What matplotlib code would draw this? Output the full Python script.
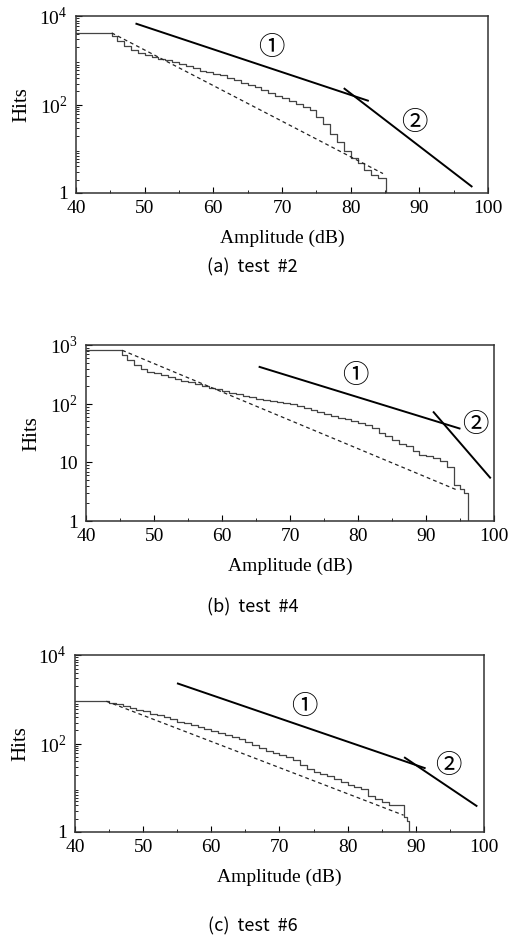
import matplotlib
matplotlib.use("Agg")
import matplotlib.pyplot as plt
from matplotlib.ticker import FixedLocator, NullFormatter, MultipleLocator, LogLocator

plt.rcParams['font.family'] = ['Liberation Serif', 'DejaVu Serif']
plt.rcParams['mathtext.fontset'] = 'custom'
plt.rcParams['mathtext.rm'] = 'Liberation Serif'

# ---- test #2 ----
amp_a = [40, 45.2, 46, 47, 48, 49, 50, 51, 52, 53, 54, 55, 56, 57, 58, 59, 60, 61, 62,
         63, 64, 65, 66, 67, 68, 69, 70, 71, 72, 73, 74, 75, 76, 77, 78, 79, 80, 81,
         82, 83, 84, 85.1, 87]
hits_a = [4200, 3600, 2800, 2100, 1740, 1500, 1320, 1200, 1100, 1000, 910, 830, 740, 660,
          590, 540, 500, 460, 400, 355, 316, 280, 245, 214, 182, 158, 138, 120, 105, 89,
          74, 52, 36, 22, 14, 9, 6.3, 4.8, 3.3, 2.5, 2.2, 1, 1]
dash_a_amp = [45.2, 84.7]
dash_a_hits = [4200, 2.75]
fit1_a_amp = [48.8, 82.5]
fit1_a_hits = [6760, 123]
fit2_a_amp = [79.1, 97.6]
fit2_a_hits = [229, 1.41]
lab_a = [(68.5, 2000), (89.3, 40)]

# ---- test #4 ----
amp_b = [40, 45.3, 46, 47, 48, 49, 50, 51, 52, 53, 54, 55, 56, 57, 58, 59, 60, 61, 62,
         63, 64, 65, 66, 67, 68, 69, 70, 71, 72, 73, 74, 75, 76, 77, 78, 79, 80, 81,
         82, 83, 84, 85, 86, 87, 88, 89, 90, 91, 92, 93, 94.1, 95, 95.6, 96.2, 97.7]
hits_b = [820, 680, 550, 460, 390, 355, 330, 310, 290, 270, 250, 235, 220, 205, 190, 178,
          166, 155, 148, 138, 129, 123, 117, 112, 107, 102, 98, 91, 85, 79, 72, 66, 62,
          58, 55, 51, 48, 44, 38, 32, 28, 24, 21, 19, 15.5, 13.5, 12.9, 12, 10.7, 8.3,
          4.1, 3.5, 3.0, 1, 1]
dash_b_amp = [45.3, 94.5]
dash_b_hits = [820, 3.4]
fit1_b_amp = [65.5, 94.9]
fit1_b_hits = [427, 38]
fit2_b_amp = [91.1, 99.4]
fit2_b_hits = [72, 5.5]
lab_b = [(79.5, 310), (97.2, 44)]

# ---- test #6 ----
amp_c = [40, 45, 46, 47, 48, 49, 50, 51, 52, 53, 54, 55, 56, 57, 58, 59, 60, 61, 62,
         63, 64, 65, 66, 67, 68, 69, 70, 71, 72, 73, 74, 75, 76, 77, 78, 79, 80, 81,
         82, 83, 84, 85, 86, 88.2, 88.7, 89, 89.6]
hits_c = [910, 850, 780, 710, 650, 590, 540, 480, 435, 400, 355, 316, 290, 263, 235, 214,
          195, 178, 158, 145, 126, 110, 93, 79, 69, 62, 56, 49, 42, 33, 26, 23, 20.4,
          18.6, 15.8, 13.5, 11.7, 10.5, 9.3, 6.6, 5.5, 4.7, 4.0, 2.2, 1.8, 1, 1]
dash_c_amp = [44.6, 88.2]
dash_c_hits = [910, 2.4]
fit1_c_amp = [55.1, 91.3]
fit1_c_hits = [2290, 28]
fit2_c_amp = [88.4, 98.9]
fit2_c_hits = [48, 3.9]
lab_c = [(73.6, 680), (94.8, 32)]

panels = [
    dict(pos=[0.149, 0.7947, 0.808, 0.188], top=1e4,
         yt=[1, 1e2, 1e4], ytl=['1', r'$10^2$', r'$10^4$'],
         amp=amp_a, hits=hits_a, dash=(dash_a_amp, dash_a_hits),
         f1=(fit1_a_amp, fit1_a_hits), f2=(fit2_a_amp, fit2_a_hits), lab=lab_a,
         cap='(a)  test  #2', capy=0.716),
    dict(pos=[0.169, 0.4457, 0.80, 0.187], top=1e3,
         yt=[1, 10, 1e2, 1e3], ytl=['1', '10', r'$10^2$', r'$10^3$'],
         amp=amp_b, hits=hits_b, dash=(dash_b_amp, dash_b_hits),
         f1=(fit1_b_amp, fit1_b_hits), f2=(fit2_b_amp, fit2_b_hits), lab=lab_b,
         cap='(b)  test  #4', capy=0.354),
    dict(pos=[0.147, 0.1149, 0.802, 0.188], top=1e4,
         yt=[1, 1e2, 1e4], ytl=['1', r'$10^2$', r'$10^4$'],
         amp=amp_c, hits=hits_c, dash=(dash_c_amp, dash_c_hits),
         f1=(fit1_c_amp, fit1_c_hits), f2=(fit2_c_amp, fit2_c_hits), lab=lab_c,
         cap='(c)  test  #6', capy=0.014),
]

fig = plt.figure(figsize=(5.1, 9.4), dpi=100)

for p in panels:
    ax = fig.add_axes(p['pos'])
    ax.set_yscale('log')
    ax.set_xlim(40, 100)
    ax.set_ylim(1, p['top'])
    ax.step(p['amp'], p['hits'], where='post', color='#444444', lw=0.9)
    ax.plot(p['dash'][0], p['dash'][1], color='#222222', lw=0.9, dashes=(3, 2.5))
    ax.plot(p['f1'][0], p['f1'][1], color='black', lw=1.4)
    ax.plot(p['f2'][0], p['f2'][1], color='black', lw=1.4)
    for (x, y), s in zip(p['lab'], ['\u2460', '\u2461']):
        ax.text(x, y, s, fontsize=19, ha='center', va='center',
                family=['Noto Sans CJK KR', 'DejaVu Sans'])
    ax.xaxis.set_major_locator(MultipleLocator(10))
    ax.xaxis.set_minor_locator(MultipleLocator(5))
    ax.yaxis.set_major_locator(FixedLocator(p['yt']))
    ax.set_yticklabels(p['ytl'])
    ax.yaxis.set_minor_locator(LogLocator(base=10, subs=range(2, 10), numticks=20))
    ax.yaxis.set_minor_formatter(NullFormatter())
    ax.tick_params(which='both', direction='in', labelsize=14)
    ax.tick_params(axis='x', pad=5)
    ax.tick_params(axis='y', pad=6)
    ax.tick_params(which='major', length=4)
    ax.tick_params(which='minor', length=2.5)
    for sp in ax.spines.values():
        sp.set_color('#333333')
        sp.set_linewidth(1.1)
    ax.set_xlabel('Amplitude (dB)', fontsize=14, labelpad=9)
    ax.set_ylabel('Hits', fontsize=15, labelpad=6)
    fig.text(0.495, p['capy'], p['cap'], fontsize=13, ha='center', va='center',
             family=['Noto Sans CJK KR', 'DejaVu Sans'])

fig.savefig('out.png', dpi=100)
